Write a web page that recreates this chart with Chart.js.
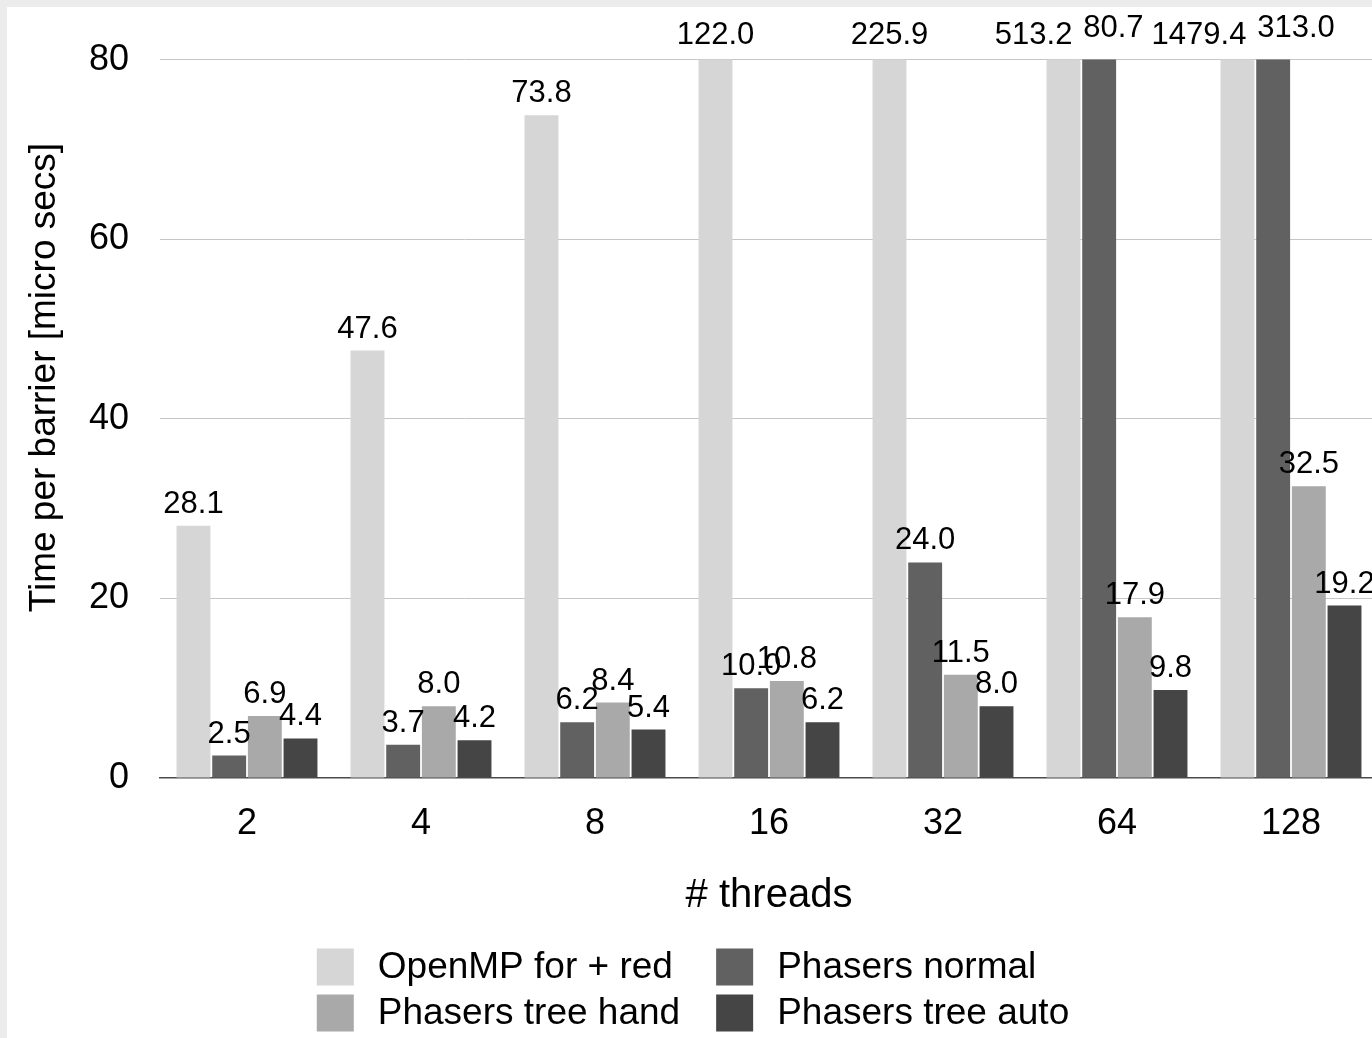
<!DOCTYPE html>
<html>
<head>
<meta charset="utf-8">
<title>Time per barrier</title>
<script src="https://cdn.jsdelivr.net/npm/chart.js@4.4.1/dist/chart.umd.min.js"></script>
<style>
  html, body { margin: 0; padding: 0; background: #ececec; overflow: hidden; }
  #frame { position: absolute; left: 7px; top: 7px; width: 1380px; height: 1031px; background: #fff; }
  canvas { display: block; }
</style>
</head>
<body>
<div id="frame"><canvas id="barrierChart" width="1380" height="1031"></canvas></div>
<script>
// thread counts and measured time per barrier (micro secs)
const threads = ['2', '4', '8', '16', '32', '64', '128'];
const ompForRed = [28.1, 47.6, 73.8, 122.0, 225.9, 513.2, 1479.4];
const phNormal = [2.5, 3.7, 6.2, 10.0, 24.0, 80.7, 313.0];
const phTreeHand = [6.9, 8.0, 8.4, 10.8, 11.5, 17.9, 32.5];
const phTreeAuto = [4.4, 4.2, 5.4, 6.2, 8.0, 9.8, 19.2];
const yTicks = [0, 20, 40, 60, 80];

const FONT = '"Liberation Sans", Arial, Helvetica, sans-serif';

// value above each bar; bars cut at the top get their label at the top edge
const valueLabels = {
  id: 'valueLabels',
  afterDatasetsDraw(chart) {
    const { ctx, chartArea } = chart;
    const n = chart.data.datasets.length;
    ctx.save();
    ctx.font = '31px ' + FONT;
    ctx.fillStyle = '#000';
    ctx.textBaseline = 'alphabetic';
    chart.data.datasets.forEach((ds, di) => {
      chart.getDatasetMeta(di).data.forEach((bar, i) => {
        const clipped = bar.y < chartArea.top;
        let x = bar.x, align = 'center', y = bar.y - 13;
        if (clipped) {
          y = chartArea.top - 16;
          const next = di + 1 < n ? chart.getDatasetMeta(di + 1).data[i] : null;
          const prev = di > 0 ? chart.getDatasetMeta(di - 1).data[i] : null;
          if (next && next.y < chartArea.top) {
            align = 'right';
            x = bar.x + bar.width / 2 - 8;
          } else if (prev && prev.y < chartArea.top) {
            align = 'left';
            x = bar.x - bar.width / 2 + 1;
            y -= 7;
          }
        }
        ctx.textAlign = align;
        ctx.fillText(ds.data[i].toFixed(1), x, y);
      });
    });
    ctx.restore();
  }
};

// y axis title, sits a bit above the middle of the plot
const yTitle = {
  id: 'yTitle',
  afterDraw(chart) {
    const ctx = chart.ctx;
    ctx.save();
    ctx.translate(38, chart.chartArea.top + 318);
    ctx.rotate(-Math.PI / 2);
    ctx.font = '37px ' + FONT;
    ctx.fillStyle = '#000';
    ctx.textAlign = 'center';
    ctx.textBaseline = 'middle';
    ctx.fillText('Time per barrier [micro secs]', 0, 0);
    ctx.restore();
  }
};

// two-column legend under the axis title
const gridLegend = {
  id: 'gridLegend',
  afterDraw(chart) {
    const ctx = chart.ctx;
    const items = chart.data.datasets;
    const box = 37, gap = 24, colGap = 36, rowH = 46;
    ctx.save();
    ctx.font = '37px ' + FONT;
    const w = items.map(d => ctx.measureText(d.label).width);
    const col1 = Math.max(w[0], w[2]);
    const col2 = Math.max(w[1], w[3]);
    const total = box + gap + col1 + colGap + box + gap + col2;
    const x0 = chart.width / 2 - 4 - total / 2;
    const xs = [x0, x0 + box + gap + col1 + colGap];
    const y0 = chart.chartArea.bottom + 189;
    ctx.textBaseline = 'middle';
    ctx.textAlign = 'left';
    items.forEach((d, i) => {
      const x = xs[i % 2];
      const y = y0 + Math.floor(i / 2) * rowH;
      ctx.fillStyle = d.backgroundColor;
      ctx.fillRect(x, y - box / 2, box, box);
      ctx.fillStyle = '#000';
      ctx.fillText(d.label, x + box + gap, y + 1);
    });
    ctx.restore();
  }
};

const ctx = document.getElementById('barrierChart').getContext('2d');

new Chart(ctx, {
  type: 'bar',
  data: {
    labels: threads,
    datasets: [
      { label: 'OpenMP for + red', data: ompForRed, backgroundColor: '#d6d6d6' },
      { label: 'Phasers normal', data: phNormal, backgroundColor: '#616161' },
      { label: 'Phasers tree hand', data: phTreeHand, backgroundColor: '#a9a9a9' },
      { label: 'Phasers tree auto', data: phTreeAuto, backgroundColor: '#454545' }
    ]
  },
  options: {
    responsive: false,
    animation: false,
    datasets: {
      bar: {
        borderWidth: 0,
        barPercentage: 0.95,
        categoryPercentage: 0.82
      }
    },
    layout: {
      padding: { left: 0, top: 51, right: 9, bottom: 120 }
    },
    scales: {
      x: {
        grid: { display: false, drawTicks: false },
        border: { display: true, color: '#4a4a4a', width: 1.5 },
        ticks: {
          color: '#000',
          padding: 24,
          font: { size: 36, family: FONT }
        },
        title: {
          display: true,
          text: '# threads',
          color: '#000',
          padding: { top: 0, bottom: -2 },
          font: { size: 40, family: FONT }
        },
        afterFit(scale) { scale.height = 140; }
      },
      y: {
        min: 0,
        max: 80,
        grid: {
          drawTicks: false,
          color: c => (c.tick.value === 0 ? 'rgba(0,0,0,0)' : '#c6c6c6'),
          lineWidth: 1
        },
        border: { display: false },
        ticks: {
          color: '#000',
          padding: 31,
          font: { size: 36, family: FONT }
        },
        afterBuildTicks(scale) { scale.ticks = yTicks.map(v => ({ value: v })); },
        afterFit(scale) { scale.width = 153; }
      }
    },
    plugins: {
      legend: { display: false },
      tooltip: { enabled: false }
    }
  },
  plugins: [valueLabels, yTitle, gridLegend]
});
</script>
</body>
</html>
